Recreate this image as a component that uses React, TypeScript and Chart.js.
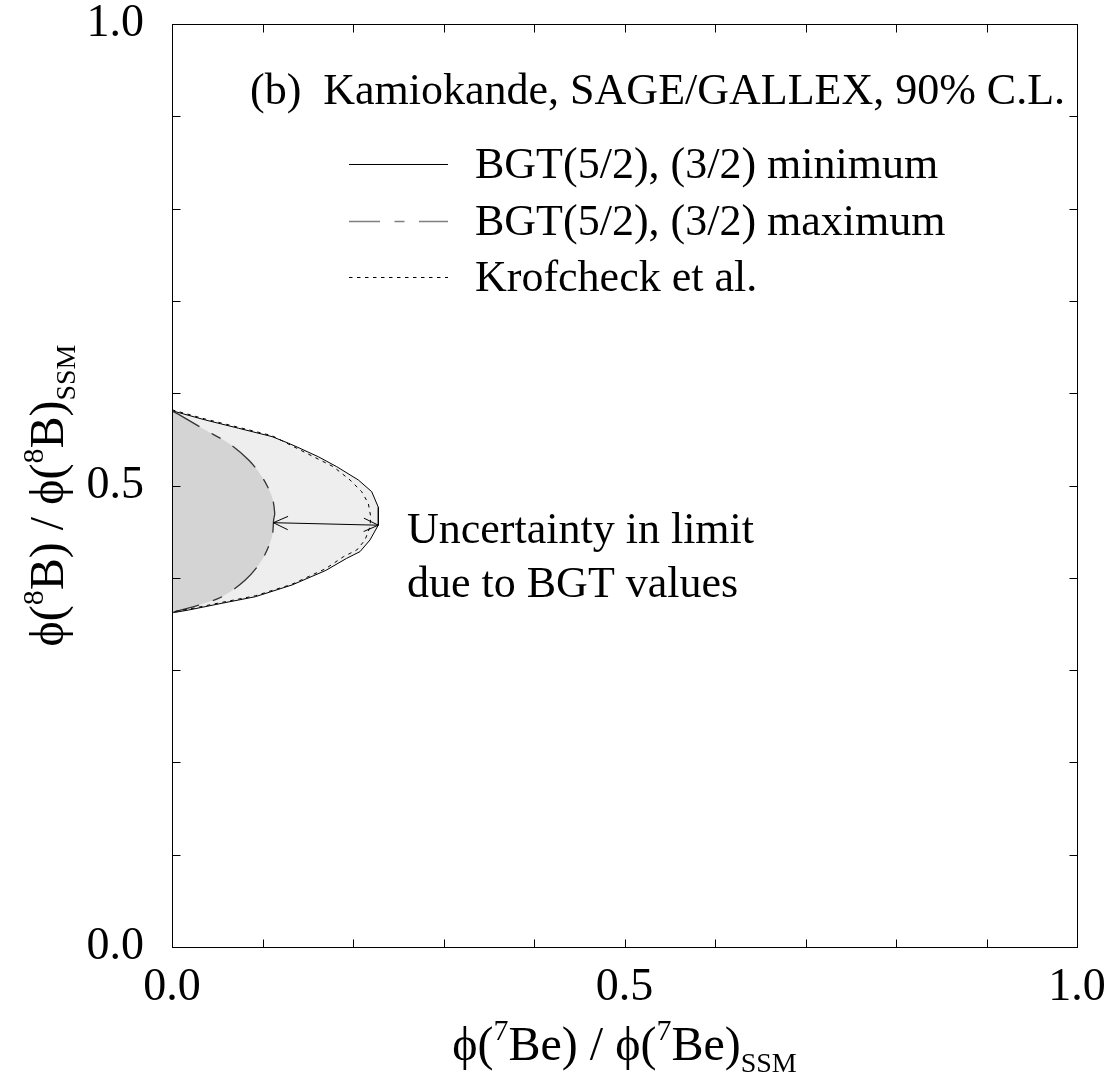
import React, { useEffect, useRef } from 'react';
import { Chart, registerables } from 'chart.js';
Chart.register(...registerables);

// ---- data ----
const bgtMinX = [0, 0.0368, 0.0737, 0.1105, 0.129, 0.1414, 0.162, 0.182, 0.2059, 0.2207, 0.228, 0.228, 0.2188, 0.2077, 0.193, 0.17, 0.1326, 0.092, 0.0552, 0.0184, 0];
const bgtMinY = [0.581, 0.571, 0.562, 0.553, 0.5457, 0.5403, 0.531, 0.5204, 0.506, 0.4933, 0.4764, 0.4572, 0.441, 0.4283, 0.4211, 0.408, 0.3922, 0.3795, 0.3724, 0.3651, 0.362];

const bgtMaxX = [0, 0.0037, 0.0368, 0.0626, 0.0847, 0.0994, 0.1105, 0.1135, 0.1123, 0.1105, 0.0994, 0.081, 0.0552, 0.0295, 0.0037, 0];
const bgtMaxY = [0.58, 0.5789, 0.5601, 0.5457, 0.5276, 0.5095, 0.4879, 0.4699, 0.4626, 0.4445, 0.4193, 0.3976, 0.3795, 0.3705, 0.3633, 0.362];

const krofX = [0, 0.0368, 0.0737, 0.1105, 0.1488, 0.1782, 0.1967, 0.2096, 0.2169, 0.2196, 0.2188, 0.2133, 0.2041, 0.1893, 0.17, 0.1326, 0.092, 0.0552, 0.0184, 0];
const krofY = [0.582, 0.572, 0.563, 0.554, 0.5349, 0.5204, 0.506, 0.4933, 0.4807, 0.4662, 0.4554, 0.441, 0.4301, 0.4228, 0.41, 0.393, 0.3805, 0.3734, 0.366, 0.363];

const arrowX = [0.112, 0.228];
const arrowY = [0.4597, 0.457];

const axisMin = 0;
const axisMax = 1;
const minorStep = 0.1;

const titleText = '(b)  Kamiokande, SAGE/GALLEX, 90% C.L.';
const legendLabels = ['BGT(5/2), (3/2) minimum', 'BGT(5/2), (3/2) maximum', 'Krofcheck et al.'];
const noteLines = ['Uncertainty in limit', 'due to BGT values'];

const FONT = '"Liberation Serif", "Times New Roman", serif';

const zip = (xs: number[], ys: number[]) => xs.map((x, i) => ({ x, y: ys[i] }));

type Part = { t: string; s: number; dy?: number };

function richWidth(ctx: CanvasRenderingContext2D, parts: Part[]) {
  let w = 0;
  for (const p of parts) {
    ctx.font = `${p.s}px ${FONT}`;
    w += ctx.measureText(p.t).width;
  }
  return w;
}
function drawRich(ctx: CanvasRenderingContext2D, parts: Part[], x: number, y: number) {
  let cx = x;
  for (const p of parts) {
    ctx.font = `${p.s}px ${FONT}`;
    ctx.fillText(p.t, cx, y + (p.dy || 0));
    cx += ctx.measureText(p.t).width;
  }
}

const MAIN = 44;
const AX = 48;
const SUP = 30;
const xTitle: Part[] = [
  { t: 'ϕ(', s: AX }, { t: '7', s: SUP, dy: -20 }, { t: 'Be) / ϕ(', s: AX }, { t: '7', s: SUP, dy: -20 },
  { t: 'Be)', s: AX }, { t: 'SSM', s: SUP - 2, dy: 12 },
];
const yTitle: Part[] = [
  { t: 'ϕ(', s: AX }, { t: '8', s: SUP, dy: -20 }, { t: 'B) / ϕ(', s: AX }, { t: '8', s: SUP, dy: -20 },
  { t: 'B)', s: AX }, { t: 'SSM', s: SUP - 2, dy: 12 },
];

const decorPlugin = {
  id: 'decor',
  afterDraw(chart: any) {
    const { ctx, chartArea: a, scales } = chart;
    const xs = scales.x;
    const ys = scales.y;
    ctx.save();
    ctx.strokeStyle = '#000';
    ctx.lineWidth = 1;
    ctx.setLineDash([]);
    const L = Math.round(a.left) + 0.5;
    const R = Math.round(a.right) + 0.5;
    const T = Math.round(a.top) + 0.5;
    const B = Math.round(a.bottom) + 0.5;
    ctx.strokeRect(L, T, R - L, B - T);
    const tl = 8;
    ctx.beginPath();
    for (const tk of xs.ticks) {
      if (tk.value <= axisMin + 1e-9 || tk.value >= axisMax - 1e-9) continue;
      const px = Math.round(xs.getPixelForValue(tk.value)) + 0.5;
      ctx.moveTo(px, B); ctx.lineTo(px, B - tl);
      ctx.moveTo(px, T); ctx.lineTo(px, T + tl);
    }
    for (const tk of ys.ticks) {
      if (tk.value <= axisMin + 1e-9 || tk.value >= axisMax - 1e-9) continue;
      const py = Math.round(ys.getPixelForValue(tk.value)) + 0.5;
      ctx.moveTo(L, py); ctx.lineTo(L + tl, py);
      ctx.moveTo(R, py); ctx.lineTo(R - tl, py);
    }
    ctx.stroke();

    // arrow
    const x1 = xs.getPixelForValue(arrowX[0]);
    const y1 = ys.getPixelForValue(arrowY[0]);
    const x2 = xs.getPixelForValue(arrowX[1]);
    const y2 = ys.getPixelForValue(arrowY[1]);
    ctx.beginPath();
    ctx.moveTo(x1, y1); ctx.lineTo(x2, y2);
    const ang = Math.atan2(y2 - y1, x2 - x1);
    const hl = 16, ha = 0.43;
    const head = (px: number, py: number, dir: number) => {
      ctx.moveTo(px + hl * Math.cos(dir + ha), py + hl * Math.sin(dir + ha));
      ctx.lineTo(px, py);
      ctx.lineTo(px + hl * Math.cos(dir - ha), py + hl * Math.sin(dir - ha));
    };
    head(x1, y1, ang);
    head(x2, y2, ang + Math.PI);
    ctx.stroke();

    // text
    ctx.fillStyle = '#000';
    ctx.textBaseline = 'alphabetic';
    ctx.textAlign = 'left';
    ctx.font = `${MAIN}px ${FONT}`;
    ctx.fillText(titleText, 250, 104);

    const legendY = [164, 221, 277];
    const styles = [
      { c: '#000', w: 1, d: [] as number[] },
      { c: '#808080', w: 1.7, d: [31, 14.5, 10, 14.5] },
      { c: '#000', w: 1, d: [3.5, 4.5] },
    ];
    legendLabels.forEach((lab, i) => {
      const st = styles[i];
      ctx.strokeStyle = st.c;
      ctx.lineWidth = st.w;
      ctx.setLineDash(st.d);
      ctx.beginPath();
      ctx.moveTo(349, legendY[i] + 0.5);
      ctx.lineTo(448, legendY[i] + 0.5);
      ctx.stroke();
      ctx.setLineDash([]);
      ctx.font = `${MAIN}px ${FONT}`;
      ctx.fillText(lab, 475, legendY[i] + 14);
    });

    ctx.font = `${MAIN}px ${FONT}`;
    ctx.fillText(noteLines[0], 407, 543);
    ctx.fillText(noteLines[1], 407, 597);

    // axis titles
    const cxm = (a.left + a.right) / 2;
    const wx = richWidth(ctx, xTitle);
    drawRich(ctx, xTitle, cxm - wx / 2, 1060);

    const cym = (a.top + a.bottom) / 2 + 10;
    const wy = richWidth(ctx, yTitle);
    ctx.save();
    ctx.translate(63, cym);
    ctx.rotate(-Math.PI / 2);
    drawRich(ctx, yTitle, -wy / 2, 0);
    ctx.restore();

    ctx.restore();
  },
};

const tickLabel = (v: any) => {
  const n = Number(v);
  return Math.abs(n * 2 - Math.round(n * 2)) < 1e-6 ? n.toFixed(1) : '';
};

export default function App() {
  const ref = useRef<HTMLCanvasElement | null>(null);
  useEffect(() => {
    document.body.style.margin = '0';
    const canvas = ref.current;
    if (!canvas) return;
    const chart = new Chart(canvas, {
      type: 'line',
      data: {
        datasets: [
          {
            label: 'Krofcheck et al.',
            data: zip(krofX, krofY),
            borderColor: '#000',
            borderWidth: 1,
            borderDash: [3.5, 4.5],
            fill: false,
            pointRadius: 0,
            tension: 0,
          },
          {
            label: 'BGT(5/2), (3/2) maximum',
            data: zip(bgtMaxX, bgtMaxY),
            borderColor: '#333',
            borderWidth: 1.3,
            borderDash: [31, 14.5, 10, 14.5],
            backgroundColor: '#d4d4d4',
            fill: 'shape',
            pointRadius: 0,
            tension: 0.3,
          },
          {
            label: 'BGT(5/2), (3/2) minimum',
            data: zip(bgtMinX, bgtMinY),
            borderColor: '#000',
            borderWidth: 1,
            backgroundColor: '#eeeeee',
            fill: 'shape',
            pointRadius: 0,
            tension: 0,
          },
        ],
      } as any,
      options: {
        responsive: false,
        animation: false,
        events: [],
        layout: { padding: { left: 0, top: 24, right: 36, bottom: 0 } },
        plugins: { legend: { display: false }, tooltip: { enabled: false } },
        scales: {
          x: {
            type: 'linear',
            min: axisMin,
            max: axisMax,
            grid: { display: false },
            border: { display: false },
            ticks: {
              stepSize: minorStep,
              autoSkip: false,
              maxRotation: 0,
              padding: 10,
              color: '#000',
              font: { family: FONT, size: 46, lineHeight: 1 },
              callback: tickLabel,
            },
            afterFit: (s: any) => {
              s.height = 136;
              s.paddingLeft = 0;
              s.paddingRight = 0;
            },
          },
          y: {
            type: 'linear',
            min: axisMin,
            max: axisMax,
            grid: { display: false },
            border: { display: false },
            ticks: {
              stepSize: minorStep,
              autoSkip: false,
              padding: 20,
              color: '#000',
              font: { family: FONT, size: 46, lineHeight: 1 },
              callback: tickLabel,
            },
            afterFit: (s: any) => {
              s.width = 172;
              s.paddingTop = 0;
              s.paddingBottom = 0;
            },
          },
        },
      } as any,
      plugins: [decorPlugin],
    });
    return () => chart.destroy();
  }, []);
  return (
    <canvas ref={ref} width={1113} height={1083} style={{ display: 'block', width: 1113, height: 1083 }} />
  );
}
